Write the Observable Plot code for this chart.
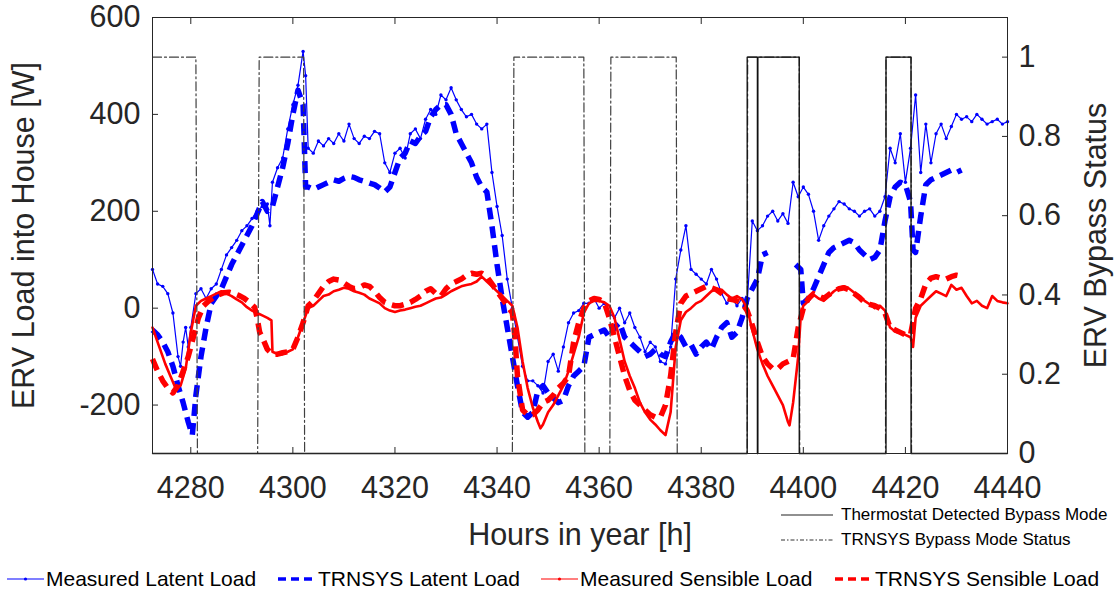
<!DOCTYPE html>
<html><head><meta charset="utf-8">
<script src="https://cdn.jsdelivr.net/npm/d3@7"></script>
<script src="https://cdn.jsdelivr.net/npm/@observablehq/plot@0.6"></script>
<style>
html,body{margin:0;padding:0;background:#fff;}
#wrap{position:relative;width:1118px;height:590px;overflow:hidden;font-family:"Liberation Sans",Arial,sans-serif;}
#wrap svg.plot{position:absolute;left:0;top:0;}
.leg{position:absolute;display:flex;align-items:center;white-space:nowrap;color:#000;line-height:1;}
.leg svg{display:block;}
</style></head><body><div id="wrap"></div>
<script>
// ---------- data ----------
const hourDomain = [4272.5, 4440];
const loadDomain = [-300, 600];
const statusDomain = [0, 1.1];
const hourTicks = [4280, 4300, 4320, 4340, 4360, 4380, 4400, 4420, 4440];
const loadTicks = [-200, 0, 200, 400, 600];
const statusTicks = [0, 0.2, 0.4, 0.6, 0.8, 1];
const statusTickLabels = ["0", "0.2", "0.4", "0.6", "0.8", "1"];

// Measured latent load [W]
const measuredLatentHours = [4272.5,4273.5,4274.5,4275.5,4276.5,4277.5,4278,4278.5,4279,4279.5,4280,4281,4282,4283,4284,4285,4286,4287,4288,4289,4290,4291,4292,4293,4294,4295,4295.5,4296,4297,4298,4299,4300,4301,4302,4302.5,4303,4304,4305,4306,4307,4308,4309,4310,4311,4312,4313,4314,4315,4316,4317,4318,4319,4320,4321,4322,4323,4324,4325,4326,4327,4328,4329,4330,4331,4332,4333,4334,4335,4336,4337,4338,4339,4340,4341,4342,4343,4344,4345,4346,4347,4348,4349,4350,4351,4352,4353,4354,4355,4356,4357,4358,4359,4360,4361,4362,4363,4364,4365,4366,4367,4368,4369,4370,4371,4372,4373,4374,4375,4376,4377,4378,4379,4380,4381,4382,4383,4384,4385,4386,4387,4388,4389,4390,4391,4392,4393,4394,4395,4396,4397,4398,4399,4400,4401,4402,4403,4404,4405,4406,4407,4408,4409,4410,4411,4412,4413,4414,4415,4416,4417,4418,4419,4420,4421,4422,4423,4424,4425,4426,4427,4428,4429,4430,4431,4432,4433,4434,4435,4436,4437,4438,4439,4440];
const measuredLatentW = [80,50,45,30,-10,-100,-120,-70,-40,-80,-40,30,40,20,40,50,80,110,125,140,160,170,185,200,210,215,170,260,290,310,370,420,460,530,480,330,320,345,335,350,340,360,345,380,350,340,355,350,365,360,300,280,320,330,310,360,370,350,390,410,400,440,430,455,430,410,395,400,380,370,380,280,210,150,60,0,-60,-120,-150,-150,-160,-175,-110,-95,-130,-80,-30,-10,-5,10,10,20,0,10,-10,-20,0,-30,-10,-40,-60,-90,-70,-80,-110,-115,-80,60,120,170,80,70,60,50,80,60,30,10,20,5,20,10,180,160,170,190,200,180,195,175,260,230,250,235,200,140,170,190,205,220,215,205,200,190,200,205,190,200,230,330,300,360,260,330,440,280,380,300,360,380,350,375,400,390,395,385,400,390,380,385,390,380,385];

// TRNSYS latent load [W]
const trnsysLatentHours = [4272.5,4273.5,4274.5,4275.5,4276.5,4277.5,4278.5,4279.5,4280.3,4281,4282,4283,4284,4285,4286,4287,4288,4289,4290,4291,4292,4293,4294,4295,4296,4297,4298,4299,4300,4301,4302,4302.5,4303,4304,4305,4306,4307,4308,4309,4310,4311,4312,4313,4314,4315,4316,4317,4318,4319,4320,4321,4322,4323,4324,4325,4326,4327,4328,4329,4330,4331,4332,4333,4334,4335,4336,4337,4338,4339,4340,4341,4342,4343,4344,4345,4346,4347,4348,4349,4350,4351,4352,4353,4354,4355,4356,4357,4358,4359,4360,4361,4362,4363,4364,4365,4366,4367,4368,4369,4370,4371,4372,4373,4374,4375,4376,4377,4378,4379,4380,4381,4382,4383,4384,4385,4386,4387,4388,4389,4390,4391,4392,4393,4393.5,4398.5,4399,4399.5,4400,4401,4402,4403,4404,4405,4406,4407,4408,4409,4410,4411,4412,4413,4414,4415,4416,4417,4418,4419,4420,4421,4421.5,4422,4423,4424,4425,4426,4427,4428,4429,4430,4431];
const trnsysLatentW = [-45,-55,-70,-90,-120,-160,-195,-235,-262,-180,-100,-40,10,25,40,65,90,110,130,150,170,195,220,200,210,250,290,340,400,450,420,250,250,245,250,255,260,265,262,268,272,270,265,262,258,255,248,240,250,280,310,320,345,340,355,365,395,410,420,420,400,360,340,320,300,270,250,240,170,90,20,-40,-100,-160,-215,-225,-215,-170,-160,-175,-185,-195,-190,-160,-140,-130,-120,-60,-55,-50,-45,-60,-40,-30,-60,-70,-80,-90,-100,-95,-85,-95,-100,-70,-50,-60,-80,-75,-95,-80,-70,-85,-60,-40,-30,-60,-50,-20,20,40,60,110,115,NaN,90,85,80,10,20,40,65,90,115,125,130,135,140,135,120,110,100,105,120,180,230,250,260,255,220,120,115,190,255,265,270,275,280,285,280,285];

// Measured sensible load [W]
const measuredSensibleHours = [4272.5,4273,4274,4275,4276,4277,4278,4279,4280,4281,4282,4283,4284,4285,4286,4287,4288,4289,4290,4291,4292,4293,4294,4295,4295.8,4296,4297,4298,4299,4300,4301,4302,4303,4304,4305,4306,4307,4308,4309,4310,4311,4312,4313,4314,4315,4316,4317,4318,4319,4320,4321,4322,4323,4324,4325,4326,4327,4328,4329,4330,4331,4332,4333,4334,4335,4336,4337,4338,4339,4340,4341,4342,4343,4344,4345,4346,4347,4348,4348.5,4349,4350,4351,4352,4353,4354,4355,4356,4357,4358,4359,4360,4361,4362,4363,4364,4365,4366,4367,4368,4369,4370,4371,4372,4373,4374,4375,4376,4377,4378,4379,4380,4381,4382,4383,4384,4385,4386,4387,4388,4389,4390,4391,4392,4393,4394,4395,4396,4397,4397.3,4398,4399,4399.5,4400,4401,4402,4403,4404,4405,4406,4407,4408,4409,4410,4411,4412,4413,4414,4415,4416,4417,4418,4419,4420,4421,4421.5,4422,4423,4424,4425,4426,4427,4428,4429,4430,4431,4432,4433,4434,4435,4436,4437,4438,4439,4440];
const measuredSensibleW = [-40,-55,-85,-115,-140,-165,-160,-125,-50,5,15,20,25,30,35,30,25,18,12,2,-5,-10,-15,-20,-25,-90,-95,-95,-90,-85,-60,-30,0,5,15,25,28,35,38,42,40,35,32,28,20,15,10,0,-5,-8,-5,-3,0,3,5,10,15,20,22,28,35,40,45,48,50,55,65,55,45,35,25,15,5,-40,-110,-165,-205,-235,-248,-240,-215,-200,-180,-160,-130,-95,-60,-10,10,15,15,12,5,-20,-65,-110,-140,-165,-195,-215,-230,-240,-252,-262,-215,-80,-25,-8,0,10,15,25,35,40,38,28,20,25,18,0,-45,-85,-115,-140,-160,-180,-200,-235,-242,-195,-100,-15,5,15,28,20,15,25,35,42,45,40,32,25,15,8,0,5,-5,-40,-48,-52,-55,-60,-80,-20,5,15,25,35,30,25,48,38,42,25,10,15,5,0,25,15,12,10];

// TRNSYS sensible load [W]
const trnsysSensibleHours = [4272.5,4273.5,4274.5,4275.5,4276.5,4277.5,4278.5,4279.5,4280.5,4281.5,4282.5,4283.5,4284.5,4285.5,4286.5,4287.5,4288.5,4289.5,4290.5,4291.5,4292.5,4293,4293.5,4294,4295,4296,4297,4298,4299,4300,4301,4302,4303,4304,4305,4306,4307,4308,4309,4310,4311,4312,4313,4314,4315,4316,4317,4318,4319,4320,4321,4322,4323,4324,4325,4326,4327,4328,4329,4330,4331,4332,4333,4334,4335,4336,4337,4338,4339,4340,4341,4342,4343,4343.5,4344,4345,4346,4347,4348,4349,4350,4351,4352,4353,4354,4355,4356,4357,4358,4359,4360,4361,4362,4363,4364,4365,4366,4367,4368,4369,4370,4371,4372,4373,4374,4375,4376,4377,4378,4379,4380,4381,4382,4383,4384,4385,4386,4387,4388,4389,4390,4391,4392,4393,4394,4395,4396,4397,4398,4399,4400,4401,4402,4403,4404,4405,4406,4407,4408,4409,4410,4411,4412,4413,4414,4415,4416,4417,4418,4419,4420,4421,4422,4423,4424,4425,4426,4427,4428,4429,4430,4431];
const trnsysSensibleW = [-105,-130,-150,-165,-175,-160,-130,-100,-60,-20,5,15,22,28,32,33,30,26,20,12,2,-20,-50,-60,-85,-95,-95,-92,-90,-85,-60,-30,5,15,30,45,55,60,58,52,45,40,42,48,45,35,22,12,8,5,5,8,12,18,25,35,40,30,25,40,50,55,60,68,72,70,72,65,50,35,20,5,-10,-60,-140,-210,-220,-220,-210,-195,-190,-180,-165,-155,-140,-70,-30,0,15,20,18,12,-20,-60,-100,-140,-170,-190,-200,-210,-220,-225,-225,-200,-140,-50,10,25,30,35,40,45,42,38,30,20,18,15,10,-5,-35,-70,-100,-115,-125,-125,-115,-110,-105,-40,0,20,30,25,20,28,35,40,42,38,30,22,12,8,5,0,-10,-40,-45,-50,-55,-55,0,20,50,62,65,62,60,65,68,66];

// Bypass status (right axis, 0..1)
const thermostatHours = [4272.5,4389,4389,4391,4391,4391.1,4391.1,4399.2,4399.2,4416.2,4416.2,4421.1,4421.1,4440];
const thermostatStatus = [0,0,1,1,0,0,1,1,0,0,1,1,0,0];
const trnsysBypassHours = [4272.5,4281.0,4281.3,4293.1,4293.4,4302.1,4302.3,4343.0,4343.3,4357.0,4357.2,4362.1,4362.3,4375.1,4375.3,4389.0,4389.1,4399.2,4399.3,4416.1,4416.2,4421.1,4421.2,4440];
const trnsysBypassStatus = [1,1,0,0,1,1,0,0,1,1,0,0,1,1,0,0,1,1,0,0,1,1,0,0];

const legendNames = ["Measured Latent Load", "TRNSYS Latent Load", "Measured Sensible Load", "TRNSYS Sensible Load"];
const bypassNames = ["Thermostat Detected Bypass Mode", "TRNSYS Bypass Mode Status"];

// ---------- build ----------
const BLUE = "#0000ff", RED = "#ff0000", INK = "#262626";
const toLeft = s => loadDomain[0] + s * (loadDomain[1] - loadDomain[0]) / statusDomain[1];
const series = (hs, vs) => hs.map((h, i) => ({h, v: vs[i]}));
const mLat = series(measuredLatentHours, measuredLatentW);
const tLat = series(trnsysLatentHours, trnsysLatentW);
const mSen = series(measuredSensibleHours, measuredSensibleW);
const tSen = series(trnsysSensibleHours, trnsysSensibleW);
const thermo = series(thermostatHours, thermostatStatus.map(toLeft));
const tBypass = series(trnsysBypassHours, trnsysBypassStatus.map(toLeft));
const FS = 30.5;

const plot = Plot.plot({
  width: 1118, height: 552,
  marginLeft: 152, marginRight: 111, marginTop: 17, marginBottom: 99,
  x: {domain: hourDomain},
  y: {domain: loadDomain},
  style: {fontFamily: "'Liberation Sans', Arial, sans-serif", fontSize: FS + "px", color: INK, background: "transparent"},
  marks: [
    Plot.line(mLat, {x: "h", y: "v", stroke: BLUE, strokeWidth: 1.2}),
    Plot.dot(mLat, {x: "h", y: "v", r: 1.7, fill: BLUE, stroke: null}),
    Plot.line(tLat, {x: "h", y: "v", stroke: BLUE, strokeWidth: 5.5, strokeDasharray: "12,7", strokeLinecap: "butt"}),
    Plot.line(mSen, {x: "h", y: "v", stroke: RED, strokeWidth: 2.6}),
    Plot.line(tSen, {x: "h", y: "v", stroke: RED, strokeWidth: 5.5, strokeDasharray: "12,7", strokeLinecap: "butt"}),
    Plot.line(tBypass, {x: "h", y: "v", stroke: "#404040", strokeWidth: 1.2, strokeDasharray: "9,3,2,3"}),
    Plot.line(thermo, {x: "h", y: "v", stroke: "#111", strokeWidth: 1.3}),
    Plot.frame({stroke: INK, strokeWidth: 1}),
    Plot.axisX({anchor: "top", ticks: hourTicks, tickSize: -6, tickFormat: () => "", label: null, stroke: INK}),
    Plot.axisX({anchor: "bottom", ticks: hourTicks, tickSize: -6, tickPadding: 29, fontSize: FS,
      tickFormat: d => String(d), label: "Hours in year [h]", labelAnchor: "center", labelOffset: 91, labelArrow: "none", stroke: INK}),
    Plot.axisY({anchor: "left", ticks: loadTicks, tickSize: -6, tickPadding: 18, fontSize: FS,
      tickFormat: d => String(d), label: "ERV Load into House [W]", labelAnchor: "center", labelOffset: 140, labelArrow: "none", stroke: INK}),
    Plot.axisY(statusTicks.map(toLeft), {anchor: "right", tickSize: -6, tickPadding: 17, fontSize: FS,
      tickFormat: (d, i) => statusTickLabels[i], label: "ERV Bypass Status", labelAnchor: "center", labelOffset: 98, labelArrow: "none", stroke: INK})
  ]
});
plot.classList.add("plot");
const wrap = document.getElementById("wrap");
wrap.appendChild(plot);

function swatch(w, color, dashed, dot, thick) {
  return `<svg width="${w}" height="12" viewBox="0 0 ${w} 12">` +
    `<line x1="0" y1="6" x2="${w}" y2="6" stroke="${color}" stroke-width="${thick}" ${dashed ? `stroke-dasharray="${dashed}"` : ""}/>` +
    (dot ? `<circle cx="${w/2}" cy="6" r="1.6" fill="${color}"/>` : "") + `</svg>`;
}
function addLegend(left, top, html, text, fontSize, gap) {
  const d = document.createElement("div");
  d.className = "leg";
  d.style.left = left + "px"; d.style.top = top + "px"; d.style.fontSize = fontSize + "px";
  d.innerHTML = html + `<span style="margin-left:${gap}px">${text}</span>`;
  wrap.appendChild(d);
}
// bottom legend row
addLegend(7, 568, swatch(37, BLUE, null, true, 1.2), legendNames[0], 21, 2);
addLegend(278, 568, swatch(37, BLUE, "8,5", false, 3.5), legendNames[1], 21, 3);
addLegend(541, 568, swatch(37, RED, null, true, 1.2), legendNames[2], 21, 2);
addLegend(835, 568, swatch(37, RED, "8,5", false, 3.5), legendNames[3], 21, 3);
// bypass legend
addLegend(781, 506, swatch(52, "#222", null, false, 1.1), bypassNames[0], 17, 8);
addLegend(781, 531, swatch(52, "#333", "4,2,1.5,2", false, 1.1), bypassNames[1], 17, 8);
</script></body></html>
